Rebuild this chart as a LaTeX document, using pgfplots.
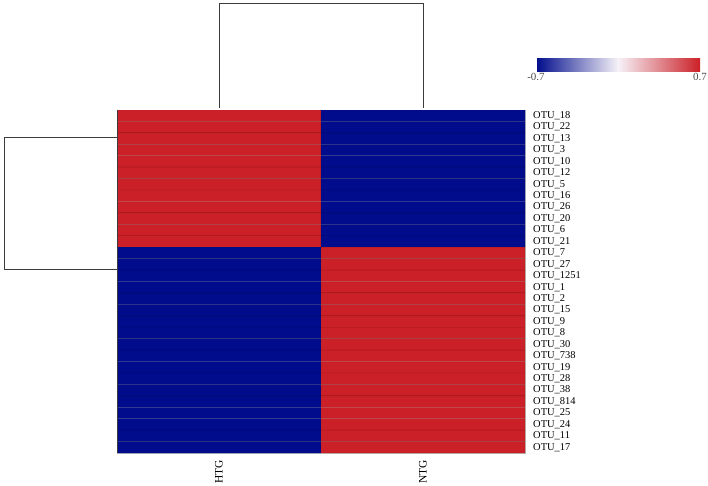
\documentclass[border=0pt]{standalone}
\usepackage{pgfplots}
\pgfplotsset{compat=1.18}
\usepackage{pgfplotstable}
\usepackage{fontspec}
\setmainfont{Liberation Serif}
\definecolor{dendro}{RGB}{60,60,60}
\pgfplotstableread{
x y c
0 0 0.7
1 0 -0.7
0 1 0.7
1 1 -0.7
0 2 0.7
1 2 -0.7
0 3 0.7
1 3 -0.7
0 4 0.7
1 4 -0.7
0 5 0.7
1 5 -0.7
0 6 0.7
1 6 -0.7
0 7 0.7
1 7 -0.7
0 8 0.7
1 8 -0.7
0 9 0.7
1 9 -0.7
0 10 0.7
1 10 -0.7
0 11 0.7
1 11 -0.7
0 12 -0.7
1 12 0.7
0 13 -0.7
1 13 0.7
0 14 -0.7
1 14 0.7
0 15 -0.7
1 15 0.7
0 16 -0.7
1 16 0.7
0 17 -0.7
1 17 0.7
0 18 -0.7
1 18 0.7
0 19 -0.7
1 19 0.7
0 20 -0.7
1 20 0.7
0 21 -0.7
1 21 0.7
0 22 -0.7
1 22 0.7
0 23 -0.7
1 23 0.7
0 24 -0.7
1 24 0.7
0 25 -0.7
1 25 0.7
0 26 -0.7
1 26 0.7
0 27 -0.7
1 27 0.7
0 28 -0.7
1 28 0.7
0 29 -0.7
1 29 0.7
}\heat
\begin{document}
\begin{tikzpicture}
\useasboundingbox (0,0) rectangle (708bp,-486bp);
% heatmap
\begin{axis}[
  at={(117bp,-453bp)}, anchor=south west,
  width=408bp, height=343bp, scale only axis,
  xmin=-0.5, xmax=1.5, ymin=-0.5, ymax=29.5, y dir=reverse,
  axis line style={draw=black!25},
  major tick length=0pt,
  xtick={0,1}, xticklabels={HTG,NTG},
  xticklabel style={rotate=90, anchor=east, inner sep=0pt, xshift=-7bp, font=\fontsize{11.5}{11.5}\selectfont},
  ytick={0,...,29},
  yticklabel pos=right,
  yticklabels={OTU\_18,OTU\_22,OTU\_13,OTU\_3,OTU\_10,OTU\_12,OTU\_5,OTU\_16,OTU\_26,OTU\_20,OTU\_6,OTU\_21,OTU\_7,OTU\_27,OTU\_1251,OTU\_1,OTU\_2,OTU\_15,OTU\_9,OTU\_8,OTU\_30,OTU\_738,OTU\_19,OTU\_28,OTU\_38,OTU\_814,OTU\_25,OTU\_24,OTU\_11,OTU\_17},
  yticklabel style={anchor=west, inner sep=0pt, xshift=8bp, font=\fontsize{10.5}{10.5}\selectfont},
  colormap={bwr}{rgb255=(0,12,140) rgb255=(246,242,248) rgb255=(203,32,39)},
  point meta min=-0.7, point meta max=0.7,
  colorbar horizontal,
  colorbar style={
    at={(parent axis.north east)}, anchor=south west,
    xshift=11bp, yshift=47bp,
    width=164bp, height=13bp, scale only axis,
    axis line style={draw=none},
    xtick={-0.7,0.7}, xticklabels={-0.7,0.7},
    major tick length=0pt,
    xticklabel style={anchor=north, inner sep=0pt, yshift=-2bp, font=\fontsize{11}{11}\selectfont, color=black!70},
  },
]
\addplot[matrix plot*, mesh/cols=2, point meta=explicit, draw=black, draw opacity=0.2, line width=0.4pt] table[x=x, y=y, meta=c] {\heat};
\end{axis}
% top dendrogram
\begin{axis}[
  at={(117bp,-110bp)}, anchor=south west,
  width=408bp, height=107bp, scale only axis,
  xmin=-0.5, xmax=1.5, ymin=0, ymax=1,
  axis lines=none, clip=false,
]
\addplot[dendro, line width=1pt] coordinates {(0,0.02) (0,1) (1,1) (1,0.02)};
\end{axis}
% left dendrogram
\begin{axis}[
  at={(0bp,-453bp)}, anchor=south west,
  width=117bp, height=343bp, scale only axis,
  xmin=0, xmax=117, ymin=110, ymax=453, y dir=reverse,
  axis lines=none, clip=false,
]
\addplot[dendro, line width=1pt] coordinates {(117,137) (4,137) (4,269) (117,269)};
\addplot[dendro, line width=0.8pt] coordinates {(117,110) (117,453)};
\end{axis}
\end{tikzpicture}
\end{document}
